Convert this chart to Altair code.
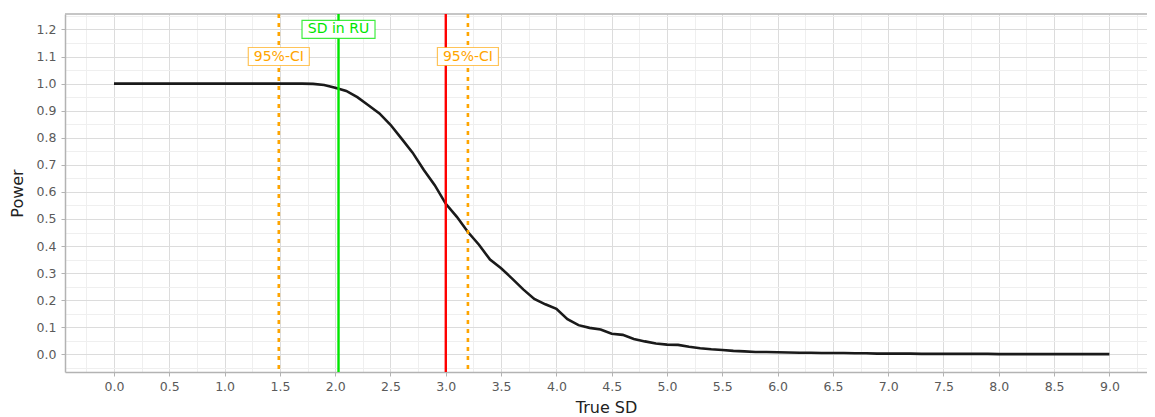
import altair as alt
import pandas as pd

# ---- data ----
true_sd = [0.0, 0.1, 0.2, 0.3, 0.4, 0.5, 0.6, 0.7, 0.8, 0.9,
           1.0, 1.1, 1.2, 1.3, 1.4, 1.5, 1.6, 1.7, 1.8, 1.9,
           2.0, 2.1, 2.2, 2.3, 2.4, 2.5, 2.6, 2.7, 2.8, 2.9,
           3.0, 3.1, 3.2, 3.3, 3.4, 3.5, 3.6, 3.7, 3.8, 3.9,
           4.0, 4.1, 4.2, 4.3, 4.4, 4.5, 4.6, 4.7, 4.8, 4.9,
           5.0, 5.1, 5.2, 5.3, 5.4, 5.5, 5.6, 5.7, 5.8, 5.9,
           6.0, 6.1, 6.2, 6.3, 6.4, 6.5, 6.6, 6.7, 6.8, 6.9,
           7.0, 7.1, 7.2, 7.3, 7.4, 7.5, 7.6, 7.7, 7.8, 7.9,
           8.0, 8.1, 8.2, 8.3, 8.4, 8.5, 8.6, 8.7, 8.8, 8.9, 9.0]
power = [1.000, 1.000, 1.000, 1.000, 1.000, 1.000, 1.000, 1.000, 1.000, 1.000,
         1.000, 1.000, 1.000, 1.000, 1.000, 1.000, 1.000, 1.000, 0.999, 0.995,
         0.985, 0.973, 0.950, 0.920, 0.890, 0.848, 0.797, 0.745, 0.682, 0.625,
         0.556, 0.508, 0.452, 0.405, 0.350, 0.318, 0.280, 0.240, 0.205, 0.185,
         0.168, 0.130, 0.108, 0.098, 0.092, 0.076, 0.072, 0.057, 0.048, 0.040,
         0.036, 0.035, 0.028, 0.023, 0.019, 0.016, 0.013, 0.011, 0.009, 0.009,
         0.008, 0.007, 0.006, 0.006, 0.005, 0.005, 0.005, 0.004, 0.004, 0.003,
         0.003, 0.003, 0.003, 0.002, 0.002, 0.002, 0.002, 0.002, 0.002, 0.002,
         0.001, 0.001, 0.001, 0.001, 0.001, 0.001, 0.001, 0.001, 0.001, 0.001, 0.001]

ci_values = [1.49, 3.2]
ci_label = ["95%-CI", "95%-CI"]
ci_label_y = [1.1, 1.1]
sd_ru = [2.03]
sd_ru_label = ["SD in RU"]
sd_ru_label_y = [1.2]
sd_alt = [3.0]

x_ticks = [round(-0.25 + 0.25 * i, 2) for i in range(39)]
y_ticks = [round(-0.05 + 0.05 * i, 2) for i in range(27)]

FONT = "DejaVu Sans"
GREEN = "#00e600"
ORANGE = "#ffa500"
RED = "#ff0000"
BORDER = "#b3b3b3"

curve_df = pd.DataFrame({"sd": true_sd, "power": power})
ci_df = pd.DataFrame({"x": ci_values, "label": ci_label, "y": ci_label_y})
ru_df = pd.DataFrame({"x": sd_ru, "label": sd_ru_label, "y": sd_ru_label_y})
alt_df = pd.DataFrame({"x": sd_alt})

x_major = "abs(datum.value*2 - round(datum.value*2)) < 0.001"
y_major = "abs(datum.value*10 - round(datum.value*10)) < 0.001"

x_scale = alt.Scale(domain=[-0.443, 9.34], nice=False, zero=False)
y_scale = alt.Scale(domain=[-0.065, 1.257], nice=False, zero=False)

x_axis = alt.Axis(
    values=x_ticks, title="True SD", labelOverlap=False, labelFlush=False,
    labelExpr=f"{x_major} ? format(datum.value, '.1f') : ''",
    gridColor={"condition": {"test": x_major, "value": "#dcdcdc"}, "value": "#efefef"},
    gridWidth=1,
    tickColor=BORDER,
    tickOpacity={"condition": {"test": x_major, "value": 1}, "value": 0},
    tickSize=4, labelPadding=4,
    domain=True, domainColor=BORDER, domainWidth=1.5,
    labelFont=FONT, labelFontSize=12.5, labelColor="#5a5a5a",
    titleFont=FONT, titleFontSize=16, titleFontWeight="normal", titleColor="#222222",
    titleY=35, titleBaseline="middle",
)
y_axis = alt.Axis(
    values=y_ticks, title="Power", labelOverlap=False, labelFlush=False,
    labelExpr=f"{y_major} ? format(datum.value, '.1f') : ''",
    gridColor={"condition": {"test": y_major, "value": "#dcdcdc"}, "value": "#efefef"},
    gridWidth=1,
    tickColor=BORDER,
    tickOpacity={"condition": {"test": y_major, "value": 1}, "value": 0},
    tickSize=4, labelPadding=5,
    domain=True, domainColor=BORDER, domainWidth=1.5,
    labelFont=FONT, labelFontSize=12.5, labelColor="#5a5a5a",
    titleFont=FONT, titleFontSize=16, titleFontWeight="normal", titleColor="#222222",
    titleX=-48, titleY=179, titleAngle=270, titleAlign="center", titleBaseline="middle",
)

X = lambda f: alt.X(f, scale=x_scale, axis=x_axis)
Y = lambda f: alt.Y(f, scale=y_scale, axis=y_axis)

top_border = alt.Chart(alt_df).mark_rule(color=BORDER, strokeWidth=1.5).encode(y=alt.value(0))

curve = alt.Chart(curve_df).mark_line(color="#1a1a1a", strokeWidth=2.6).encode(
    x=X("sd:Q"), y=Y("power:Q"),
)

ci_rules = alt.Chart(ci_df).mark_rule(color=ORANGE, strokeWidth=2.6, strokeDash=[4, 5]).encode(x=X("x:Q"))
ru_rule = alt.Chart(ru_df).mark_rule(color=GREEN, strokeWidth=2.4).encode(x=X("x:Q"))
alt_rule = alt.Chart(alt_df).mark_rule(color=RED, strokeWidth=2.4).encode(x=X("x:Q"))

ru_box = alt.Chart(ru_df).mark_point(
    shape="M-1,-0.247H1V0.247H-1Z", filled=True, fill="white", fillOpacity=1,
    stroke=GREEN, strokeWidth=1.2, strokeOpacity=0.75, size=73 * 73, opacity=1,
).encode(x=X("x:Q"), y=Y("y:Q"))
ru_text = alt.Chart(ru_df).mark_text(
    color=GREEN, font=FONT, fontSize=14, baseline="middle", align="center"
).encode(x=X("x:Q"), y=Y("y:Q"), text="label:N")

ci_box = alt.Chart(ci_df).mark_point(
    shape="M-1,-0.295H1V0.295H-1Z", filled=True, fill="white", fillOpacity=1,
    stroke=ORANGE, strokeWidth=1.2, strokeOpacity=0.65, size=61 * 61, opacity=1,
).encode(x=X("x:Q"), y=Y("y:Q"))
ci_text = alt.Chart(ci_df).mark_text(
    color=ORANGE, font=FONT, fontSize=14, baseline="middle", align="center"
).encode(x=X("x:Q"), y=Y("y:Q"), text="label:N")

chart = alt.layer(
    curve, top_border, ci_rules, ru_rule, alt_rule, ci_box, ci_text, ru_box, ru_text
).properties(
    width=1082, height=358,
    autosize=alt.AutoSizeParams(type="none"),
    padding={"left": 57, "top": 6, "right": 0, "bottom": 44},
).configure_view(strokeWidth=0)

chart.save("out.html", embed_options={"renderer": "svg", "actions": False})
